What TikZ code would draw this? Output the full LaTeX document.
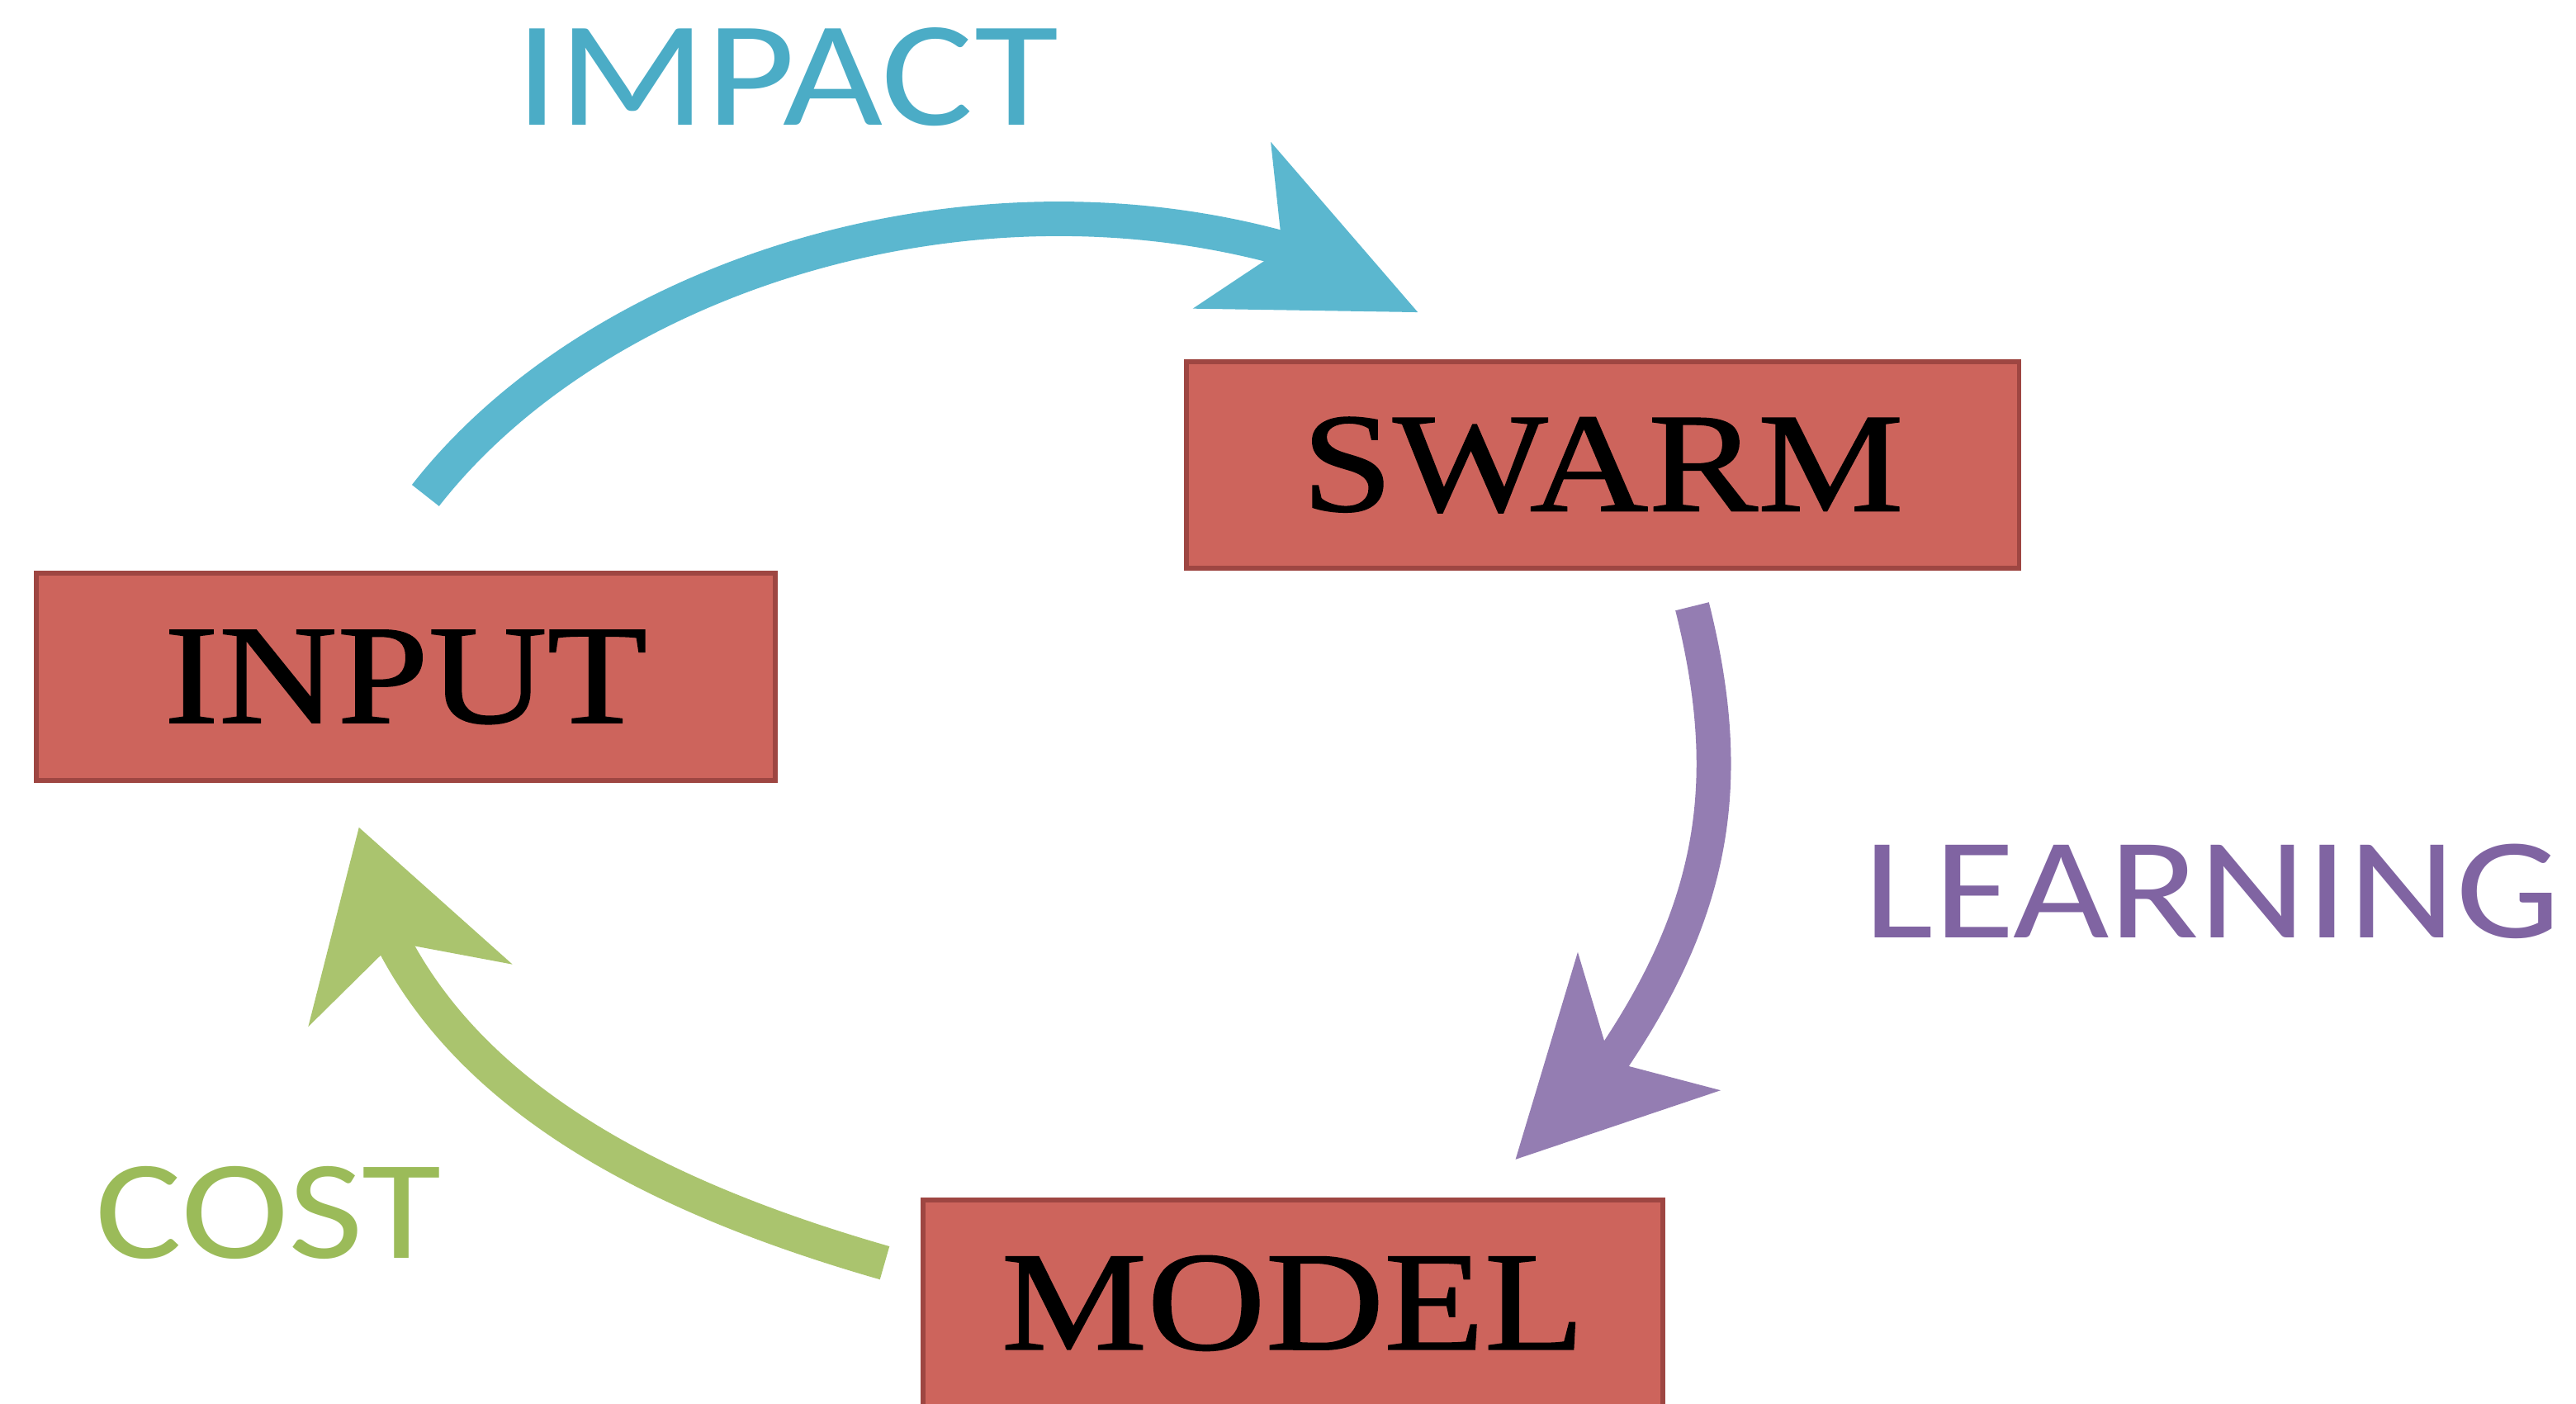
\documentclass[tikz,border=0pt]{standalone}
\usepackage{fontspec}
\usetikzlibrary{arrows.meta, positioning}
\newfontfamily\boxfont[FakeStretch=1.16, FakeBold=1]{Liberation Serif}
\newfontfamily\labelfont[FakeStretch=1.15]{Carlito}
\definecolor{boxfill}{RGB}{205,100,92}
\definecolor{boxline}{RGB}{158,70,66}
\definecolor{impacttext}{RGB}{75,172,198}
\definecolor{impactarrow}{RGB}{91,183,207}
\definecolor{learntext}{RGB}{128,100,162}
\definecolor{learnarrow}{RGB}{148,125,178}
\definecolor{costtext}{RGB}{155,187,89}
\definecolor{costarrow}{RGB}{170,196,110}

\begin{document}
\begin{tikzpicture}[
        every node/.style={inner sep=0pt},
        stage/.style={draw=boxline, fill=boxfill, line width=0.06cm, minimum width=9cm, minimum height=2.52cm,
          font=\boxfont\fontsize{49}{49}\selectfont}, % red boxes
        loopline/.style 2 args={line width=0.42cm, -{Stealth[length=#1, width=#2, inset=0.68cm, line width=0pt]}}, % thick curved arrows
        flowlabel/.style={font=\labelfont\fontsize{50}{50}\selectfont}
      ]
      \useasboundingbox (0,0) rectangle (31.36,17.08);

      % Nodes
      \node (input) [stage] at (4.94,8.84) {INPUT};
      \node (swarm) [stage, minimum width=10.14cm, above right=0cm and 4.94cm of input] {SWARM};
      \node (model) [stage, below right=5.04cm and 1.74cm of input] {MODEL};

      % Labels
      \node (impact) [flowlabel, text=impacttext, font=\labelfont\fontsize{52}{52}\selectfont] at (9.58,16.14) {IMPACT};
      \node (learning) [flowlabel, text=learntext] at (26.93,6.23) {LEARNING};
      \node (cost) [flowlabel, text=costtext, font=\labelfont\fontsize{49}{49}\selectfont] at (3.27,2.32) {COST};

      % Arrows (curved shaft, then a short straight run under the head)
      \draw [loopline={2.5cm}{2.24cm}, color=impactarrow] ([shift={(0.24,0.92)}]input.north)
        to[out=52, in=165, out distance=3.3cm, in distance=4.1cm] ([shift={(1.16,1.36)}]swarm.north west) -- ++(1.69,-0.79);
      \draw [loopline={2.34cm}{2.42cm}, color=learnarrow] ([shift={(1.09,-0.43)}]swarm.south)
        to[out=-76, in=56, out distance=2.1cm, in distance=2.3cm] ([shift={(-0.63,1.69)}]model.north east) -- ++(-1.19,-1.23);
      \draw [loopline={2.14cm}{2.6cm}, color=costarrow] ([shift={(-0.44,0.49)}]model.west)
        to[out=164, in=-62, out distance=2.8cm, in distance=2.2cm] ([shift={(-0.13,-1.98)}]input.south) -- ++(-0.44,1.44);

    \end{tikzpicture}
\end{document}
